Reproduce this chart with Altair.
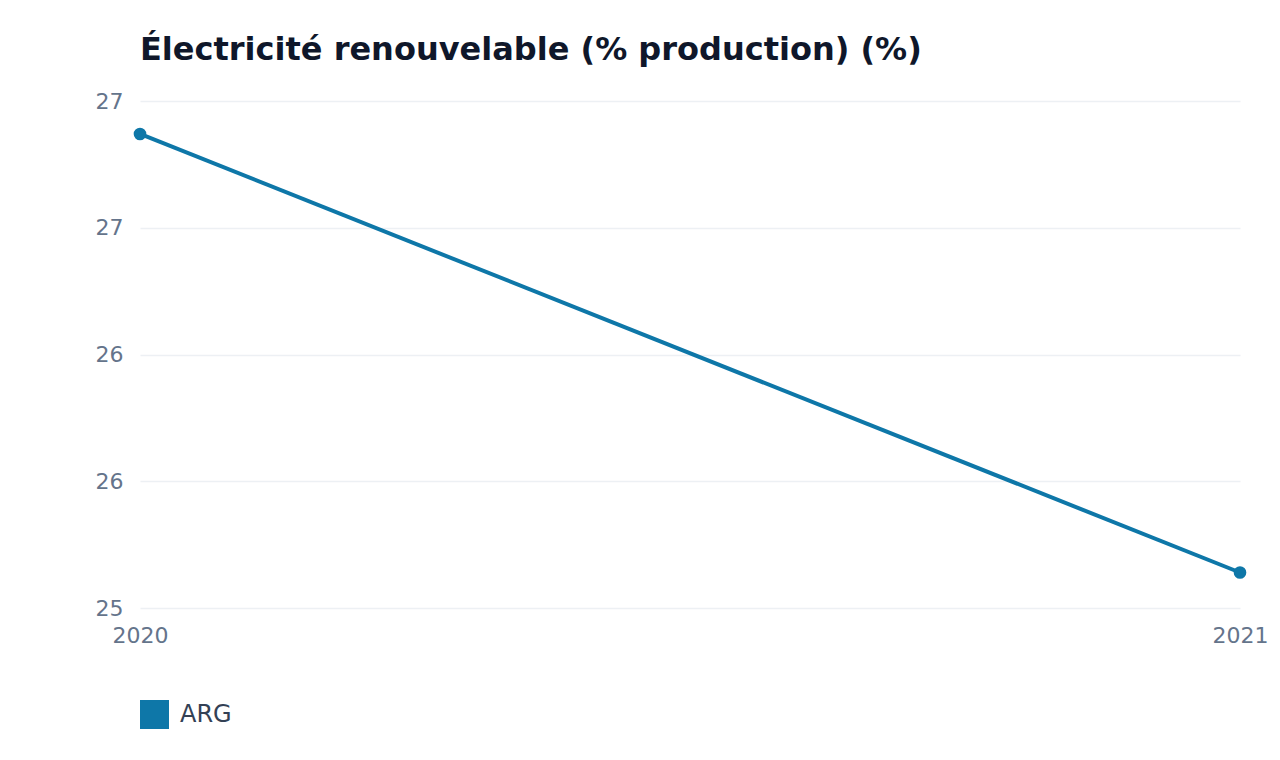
import altair as alt
import pandas as pd

years = [2020, 2021]
values = [26.87, 25.14]
countries = ["ARG", "ARG"]
y_ticks = [25, 25.5, 26, 26.5, 27]

df = pd.DataFrame({"year": years, "value": values, "country": countries})

color = "#0e77a8"

base = alt.Chart(df).encode(
    x=alt.X("year:Q",
            scale=alt.Scale(domain=[2020, 2021], nice=False, zero=False),
            axis=alt.Axis(values=years, format=".0f", title=None, grid=False,
                          domain=False, ticks=False, labelPadding=17, labelFlush=False,
                          labelFontSize=22, labelColor="#64748b", labelFont="DejaVu Sans")),
    y=alt.Y("value:Q",
            scale=alt.Scale(domain=[25, 27], nice=False, zero=False),
            axis=alt.Axis(values=y_ticks, format=".0f", title=None,
                          domain=False, ticks=False, labelPadding=17, labelOverlap=False,
                          labelFontSize=22, labelColor="#64748b", labelFont="DejaVu Sans",
                          gridColor="#edf0f4", gridWidth=1.5)),
    color=alt.Color("country:N",
                    scale=alt.Scale(range=[color]),
                    legend=alt.Legend(title=None, orient="none", legendX=0, legendY=599,
                                      direction="horizontal", symbolType="square",
                                      symbolSize=841, symbolStrokeWidth=0,
                                      labelFontSize=24, labelColor="#334155",
                                      labelFont="DejaVu Sans", labelOffset=11)),
)

line = base.mark_line(strokeWidth=4)
points = base.mark_point(filled=True, size=160, opacity=1)

chart = (line + points).properties(
    width=1100,
    height=507,
    autosize=alt.AutoSizeParams(type="none"),
    padding={"left": 132, "top": 93, "right": 30, "bottom": 130},
    title=alt.TitleParams("Électricité renouvelable (% production) (%)", anchor="start",
                          frame="group", fontSize=32, font="DejaVu Sans", fontWeight="bold",
                          color="#0f172a", offset=23),
).configure_view(stroke=None)

chart.save("out.html", embed_options={"renderer": "svg", "actions": False})
